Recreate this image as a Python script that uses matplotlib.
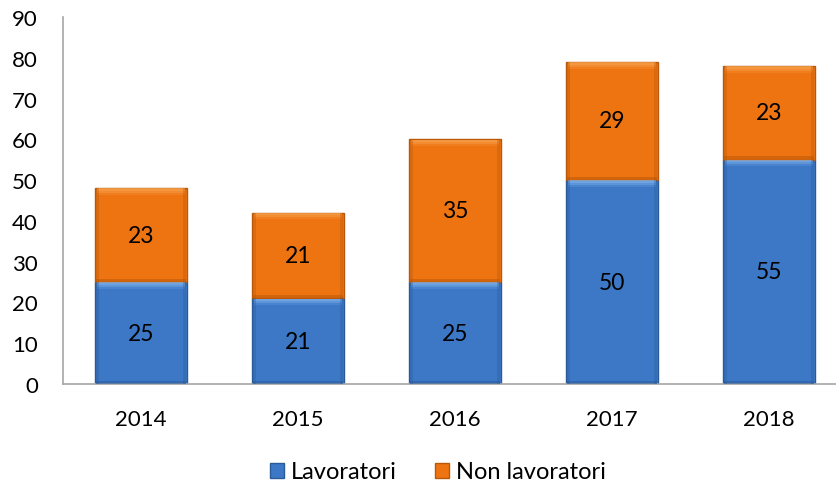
import matplotlib
matplotlib.use("Agg")
import matplotlib.pyplot as plt
from matplotlib.patches import Rectangle
import numpy as np

years = ["2014", "2015", "2016", "2017", "2018"]
lavoratori = [25, 21, 25, 50, 55]
non_lavoratori = [23, 21, 35, 29, 23]
yticks = list(range(0, 100, 10))

plt.rcParams['font.family'] = ['Lato', 'DejaVu Sans']

fig = plt.figure(figsize=(8.37, 4.89), dpi=100)
W, H = 837, 489
ax = fig.add_axes([63 / W, 1 - 385 / H, (837 - 63) / W, (385 - 18) / H])

x = np.arange(len(years))
width = 0.58
blue, blue_dark, blue_light = "#3C78C6", "#2A5A9A", "#7FB4EE"
orange, orange_dark, orange_light = "#EE7412", "#B85808", "#F9A550"

b1 = ax.bar(x, lavoratori, width, color=blue, edgecolor=blue_dark, linewidth=1.0, zorder=2)
b2 = ax.bar(x, non_lavoratori, width, bottom=lavoratori, color=orange,
            edgecolor=orange_dark, linewidth=1.0, zorder=2)

# bevel effect: light band on top, darker band at bottom and sides
for bars, light, dark in ((b1, blue_light, blue_dark), (b2, orange_light, orange_dark)):
    for p in bars:
        x0, y0, w, h = p.get_x(), p.get_y(), p.get_width(), p.get_height()
        for k, a in enumerate((0.35, 0.6, 0.85)):
            t = 1.6 - k * 0.5
            ax.add_patch(Rectangle((x0 + 0.01, y0 + h - t - 0.05), w - 0.02, t,
                                   color=light, alpha=a * 0.6, zorder=3, linewidth=0))
        ax.add_patch(Rectangle((x0 + 0.005, y0), w - 0.01, 0.8,
                               color=dark, alpha=0.5, zorder=3, linewidth=0))
        for xx in (x0 + 0.005, x0 + w - 0.025):
            ax.add_patch(Rectangle((xx, y0), 0.02, h,
                                   color=dark, alpha=0.35, zorder=3, linewidth=0))

for i in range(len(years)):
    ax.text(x[i], lavoratori[i] / 2, str(lavoratori[i]), ha="center", va="center",
            fontsize=16.5, zorder=4)
    ax.text(x[i], lavoratori[i] + non_lavoratori[i] / 2, str(non_lavoratori[i]),
            ha="center", va="center", fontsize=16.5, zorder=4)

ax.set_xlim(-0.497, 4.433)
ax.set_ylim(0, 90)
ax.set_yticks(yticks)
ax.set_xticks(x)
ax.set_xticklabels(years)
ax.tick_params(axis="both", length=0, labelsize=16)
ax.tick_params(axis="x", pad=18)
ax.tick_params(axis="y", pad=18)
for s in ("top", "right"):
    ax.spines[s].set_visible(False)
for s in ("left", "bottom"):
    ax.spines[s].set_color("#A6A6A6")
    ax.spines[s].set_linewidth(1.2)

handles = [Rectangle((0, 0), 1, 1, facecolor=blue, edgecolor=blue_dark),
           Rectangle((0, 0), 1, 1, facecolor=orange, edgecolor=orange_dark)]
fig.legend(handles, ["Lavoratori", "Non lavoratori"], loc="center",
           bbox_to_anchor=(438 / W, 1 - 473 / H), ncol=2, frameon=False,
           fontsize=17, handlelength=0.6, handleheight=0.6, handletextpad=0.3,
           columnspacing=1.6)

fig.savefig("out.png", dpi=100)
